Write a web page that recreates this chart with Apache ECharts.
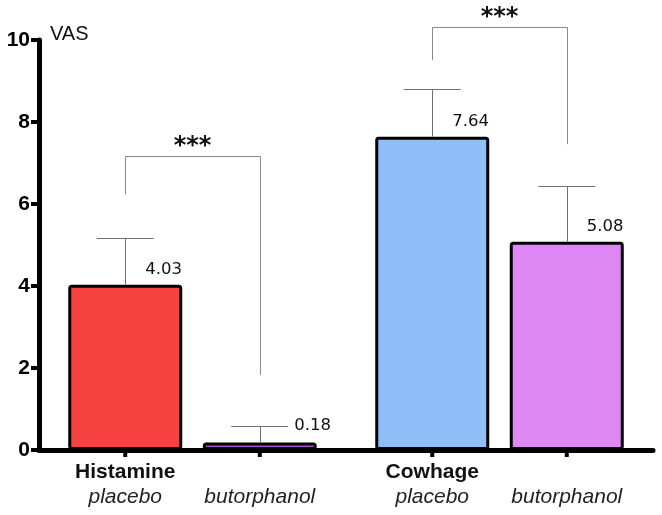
<!DOCTYPE html>
<html>
<head>
<meta charset="utf-8">
<script src="https://cdn.jsdelivr.net/npm/echarts@6/dist/echarts.min.js"></script>
<style>html,body{margin:0;padding:0;background:#fff;}#c{width:662px;height:515px;}</style>
</head>
<body>
<div id="c"></div>
<script>
// ---- data ----
const groups = ['Histamine', 'Cowhage'];
const treatments = ['placebo', 'butorphanol'];
const placeboMean = [4.03, 7.64];
const butorphanolMean = [0.18, 5.08];
const placeboUpper = [5.18, 8.80];       // top of error whisker
const butorphanolUpper = [0.59, 6.44];
const yTicks = [0, 2, 4, 6, 8, 10];
const bracketTop = [7.17, 10.31];         // height of significance bracket
const bracketLegEnds = [[6.24, 1.83], [9.51, 7.46]]; // bottom of left/right legs
const significance = ['***', '***'];

// ---- styles ----
const placeboColors = ['#F74242', '#8FBEF8'];
const butorColors = ['#A94BD8', '#DE88F6'];
const BAR_W = 114, GAP = 0.18;

const chart = echarts.init(document.getElementById('c'), null, {renderer: 'canvas'});

function renderItem(params, api) {
  const i = api.value(0);
  const base = api.coord([i, 0]);
  const cx = base[0], y0 = base[1];
  const half = BAR_W * (1 + GAP) / 2;
  const xs = [cx - half, cx + half];
  const means = [placeboMean[i], butorphanolMean[i]];
  const uppers = [placeboUpper[i], butorphanolUpper[i]];
  const Y = v => api.coord([i, v])[1];
  const px = v => Math.round(v) + 0.5;
  const children = [];
  const grey = '#707070';
  for (let k = 0; k < 2; k++) {
    const x = xs[k];
    const yTop = Y(means[k]);
    const yUp = Y(uppers[k]);
    children.push({type: 'line', shape: {x1: px(x), y1: yTop, x2: px(x), y2: px(yUp)}, style: {stroke: grey, lineWidth: 1}});
    children.push({type: 'line', shape: {x1: x - 28.5, y1: px(yUp), x2: x + 28.5, y2: px(yUp)}, style: {stroke: grey, lineWidth: 1}});
    let lx = x + 20, ly = yTop - 15;
    if (Math.abs(ly - yUp) < 14) { lx = x + 28.5 + 6; ly = yUp; }
    children.push({type: 'text', x: lx, y: ly, style: {text: means[k].toFixed(2), fill: '#111', fontSize: 16.5, fontFamily: 'DejaVu Sans', align: 'left', verticalAlign: 'middle', textAlign: 'left', textVerticalAlign: 'middle'}});
    children.push({type: 'rect', shape: {x: x - 2, y: y0, width: 4, height: 7}, style: {fill: '#000'}});
    children.push({type: 'text', x: x, y: y0 + 47, style: {text: treatments[k], fill: '#222', fontSize: 21, fontStyle: 'italic', fontFamily: 'Liberation Sans', align: 'center', verticalAlign: 'middle', textAlign: 'center', textVerticalAlign: 'middle'}});
  }
  children.push({type: 'text', x: xs[0], y: y0 + 22, style: {text: groups[i], fill: '#111', fontSize: 21, fontWeight: 'bold', fontFamily: 'Liberation Sans', align: 'center', verticalAlign: 'middle', textAlign: 'center', textVerticalAlign: 'middle'}});
  const yb = px(Y(bracketTop[i]));
  const bColor = '#8a8a8a';
  children.push({type: 'polyline', shape: {points: [[px(xs[0]), Y(bracketLegEnds[i][0])], [px(xs[0]), yb], [px(xs[1]), yb], [px(xs[1]), Y(bracketLegEnds[i][1])]]}, style: {stroke: bColor, lineWidth: 1, fill: null}});
  children.push({type: 'text', x: (xs[0] + xs[1]) / 2, y: yb - 10, style: {text: significance[i], fill: '#111', fontSize: 24, fontWeight: 'bold', fontFamily: 'DejaVu Sans', align: 'center', verticalAlign: 'middle', textAlign: 'center', textVerticalAlign: 'middle'}});
  return {type: 'group', children};
}

chart.setOption({
  animation: false,
  grid: {left: 39, right: 9, top: 40, bottom: 65, containLabel: false},
  xAxis: {
    type: 'category', data: groups,
    axisLine: {show: true, lineStyle: {color: '#000', width: 5}},
    axisTick: {show: false}, axisLabel: {show: false}, splitLine: {show: false}
  },
  yAxis: {
    type: 'value', min: yTicks[0], max: yTicks[yTicks.length - 1], interval: yTicks[1] - yTicks[0],
    name: 'VAS', nameLocation: 'end', nameGap: 6,
    nameTextStyle: {color: '#111', fontSize: 20, fontFamily: 'Liberation Sans', align: 'left', verticalAlign: 'middle', padding: [0, 0, 0, 11]},
    axisLine: {show: true, lineStyle: {color: '#000', width: 5}},
    axisTick: {show: true, length: 8, lineStyle: {color: '#000', width: 4}},
    axisLabel: {color: '#000', fontSize: 21, fontWeight: 'bold', fontFamily: 'Liberation Sans', margin: 9, padding: [0, 0, 8, 0]},
    splitLine: {show: false}
  },
  series: [
    {
      type: 'bar', name: treatments[0], barWidth: BAR_W, barGap: (GAP * 100) + '%',
      data: placeboMean.map((v, i) => ({value: v, itemStyle: {color: placeboColors[i]}})),
      itemStyle: {borderColor: '#000', borderWidth: 3, borderRadius: 2}
    },
    {
      type: 'bar', name: treatments[1], barWidth: BAR_W, barGap: (GAP * 100) + '%',
      data: butorphanolMean.map((v, i) => ({value: v, itemStyle: {color: butorColors[i]}})),
      itemStyle: {borderColor: '#000', borderWidth: 3, borderRadius: 2}
    },
    {
      type: 'custom', renderItem: renderItem, clip: false, z: 5,
      data: groups.map((g, i) => [i, 0]), encode: {x: 0, y: 1}, silent: true
    }
  ]
});
</script>
</body>
</html>
